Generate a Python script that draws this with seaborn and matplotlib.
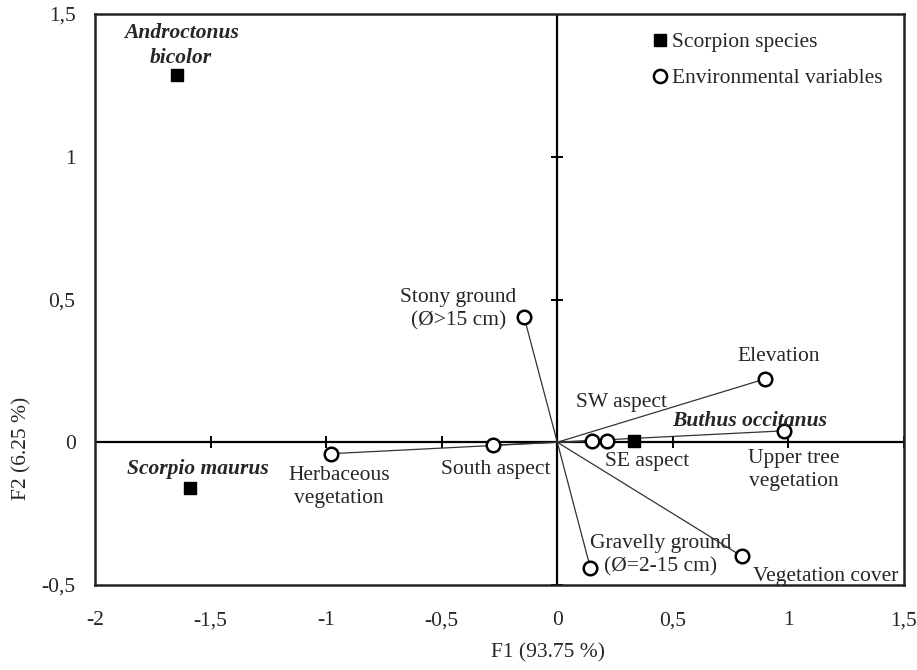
import matplotlib
matplotlib.use("Agg")
import matplotlib.pyplot as plt
from matplotlib.lines import Line2D
import seaborn as sns
import pandas as pd

# ---- data ----
species_names = ["Androctonus\nbicolor", "Scorpio maurus", "Buthus occitanus"]
species_f1 = [-1.645, -1.59, 0.333]
species_f2 = [1.285, -0.16, 0.003]

env_names = ["Stony ground\n(Ø>15 cm)", "Herbaceous\nvegetation", "South aspect",
             "SW aspect", "SE aspect", "Elevation", "Upper tree\nvegetation",
             "Gravelly ground\n(Ø=2-15 cm)", "Vegetation cover"]
env_f1 = [-0.143, -0.978, -0.28, 0.15, 0.215, 0.90, 0.98, 0.143, 0.80]
env_f2 = [0.437, -0.04, -0.01, 0.005, 0.005, 0.222, 0.04, -0.44, -0.40]

x_ticks = [-2, -1.5, -1, -0.5, 0, 0.5, 1, 1.5]
x_ticklabels = ["-2", "-1,5", "-1", "-0,5", "0", "0,5", "1", "1,5"]
y_ticks = [-0.5, 0, 0.5, 1, 1.5]
y_ticklabels = ["-0,5", "0", "0,5", "1", "1,5"]

legend_labels = ["Scorpion species", "Environmental variables"]
x_title = "F1 (93.75 %)"
y_title = "F2 (6.25 %)"

# label offsets in pixels (styling)
species_offsets = [(4, 30), (8, 19), (115, 20)]
env_offsets = [(-66, 8), (8, -33), (3, -24), (30, 38), (40, -21), (13, 22),
               (10, -39), (70, 13), (83, -20)]

sns.set_theme(style="white")
plt.rcParams['font.family'] = ['Liberation Serif', 'DejaVu Serif']
FS = 15.5
LS = 1.3

fig = plt.figure(figsize=(9.17, 6.70), dpi=100)
ax = fig.add_axes([95/917, 1-585/670, 809/917, 571/670])

df_sp = pd.DataFrame({"name": species_names, "F1": species_f1, "F2": species_f2,
                      "kind": legend_labels[0]})
df_env = pd.DataFrame({"name": env_names, "F1": env_f1, "F2": env_f2,
                       "kind": legend_labels[1]})

# zero axes
ax.axhline(0, color="black", lw=1.6, zorder=1)
ax.axvline(0, color="black", lw=1.6, zorder=1)
# crossing tick marks on the zero axes
ax.plot([t for t in x_ticks if t != 0], [0]*(len(x_ticks)-1), linestyle="none",
        marker="|", markersize=9, markeredgewidth=1.4, color="black", zorder=1)
ax.plot([0]*(len(y_ticks)-1), [t for t in y_ticks if t != 0], linestyle="none",
        marker="_", markersize=9, markeredgewidth=1.4, color="black", zorder=1)

# vectors
for x, y in zip(env_f1, env_f2):
    ax.plot([0, x], [0, y], color="#333333", lw=0.9, zorder=2)

sns.scatterplot(data=df_sp, x="F1", y="F2", marker="s", color="black",
                edgecolor="black", s=80, linewidth=1, ax=ax, legend=False, zorder=4)
sns.scatterplot(data=df_env, x="F1", y="F2", marker="o", color="white",
                edgecolor="black", s=95, linewidth=1.8, ax=ax, legend=False, zorder=4)

for name, x, y, off in zip(species_names, species_f1, species_f2, species_offsets):
    ax.annotate(name, (x, y), xytext=off, textcoords="offset pixels",
                ha="center", va="center", fontsize=FS, fontweight="bold",
                fontstyle="italic", linespacing=LS, zorder=5)
for name, x, y, off in zip(env_names, env_f1, env_f2, env_offsets):
    ax.annotate(name, (x, y), xytext=off, textcoords="offset pixels",
                ha="center", va="center", fontsize=FS, linespacing=LS, zorder=5)

ax.set_xlim(-2, 1.5)
ax.set_ylim(-0.5, 1.5)
ax.set_xticks(x_ticks)
ax.set_xticklabels(x_ticklabels, fontsize=FS)
ax.set_yticks(y_ticks)
ax.set_yticklabels(y_ticklabels, fontsize=FS)
ax.tick_params(axis="x", length=0, pad=19)
ax.tick_params(axis="y", length=0, pad=14)
ax.set_xlabel("")
ax.set_ylabel("")
for sp in ax.spines.values():
    sp.set_visible(True)
    sp.set_color("#222222")
    sp.set_linewidth(1.8)

handles = [Line2D([], [], marker="s", linestyle="none", color="black",
                  markersize=9, markeredgecolor="black"),
           Line2D([], [], marker="o", linestyle="none", markerfacecolor="white",
                  markeredgecolor="black", markeredgewidth=1.8, markersize=9.5)]
ax.legend(handles, legend_labels, loc="upper left", bbox_to_anchor=((652-95)/809, 1-18/571),
          frameon=False, fontsize=FS, handlelength=0.7, handletextpad=0.25,
          borderpad=0, borderaxespad=0, labelspacing=0.75)

fig.text(548/917, 1-653/670, x_title, ha="center", va="center", fontsize=FS)
fig.text(22/917, 1-448/670, y_title, ha="center", va="center", fontsize=FS, rotation=90)

fig.savefig("out.png", dpi=100, facecolor="white")
